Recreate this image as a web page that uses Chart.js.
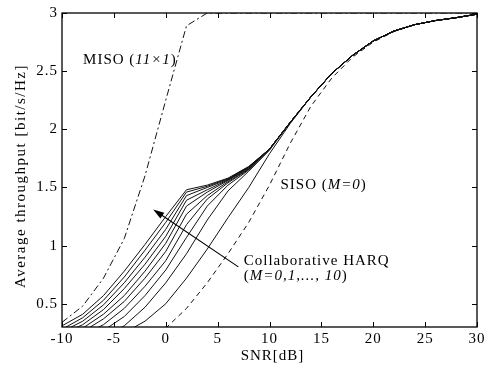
<!DOCTYPE html>
<html><head><meta charset="utf-8">
<script src="https://cdn.jsdelivr.net/npm/chart.js@4/dist/chart.umd.min.js"></script>
<style>html,body{margin:0;padding:0;background:#fff;}#wrap{width:494px;height:373px;position:relative;}</style>
</head><body><div id="wrap"><canvas id="c" width="494" height="373"></canvas></div>
<script>
// SNR grid [dB]
const snr = [-10,-8,-6,-4,-2,0,2,4,6,8,10,12,14,16,18,20,22,24,26,28,30];
// MISO (11x1)
const miso = [0.34,0.48,0.72,1.06,1.60,2.25,2.89,3,3,3,3,3,3,3,3,3,3,3,3,3,3];
// SISO (M=0)
const siso = [0.05,0.07,0.10,0.14,0.20,0.29,0.46,0.68,0.93,1.20,1.52,1.88,2.20,2.44,2.62,2.75,2.84,2.90,2.935,2.96,2.99];
// Collaborative HARQ, M = 1 ... 10
const harqM1  = [0.12,0.15,0.19,0.25,0.35,0.50,0.72,0.97,1.24,1.50,1.79,2.05,2.28,2.48,2.635,2.76,2.845,2.90,2.935,2.96,2.99];
const harqM2  = [0.14,0.17,0.22,0.31,0.47,0.68,0.93,1.22,1.47,1.64,1.82,2.06,2.28,2.48,2.635,2.76,2.845,2.90,2.935,2.96,2.99];
const harqM3  = [0.16,0.20,0.27,0.39,0.57,0.79,1.07,1.34,1.52,1.65,1.83,2.06,2.28,2.48,2.635,2.76,2.845,2.90,2.935,2.96,2.99];
const harqM4  = [0.18,0.23,0.32,0.46,0.65,0.87,1.18,1.40,1.54,1.655,1.83,2.06,2.28,2.48,2.635,2.76,2.845,2.90,2.935,2.96,2.99];
const harqM5  = [0.20,0.26,0.37,0.52,0.72,0.95,1.27,1.43,1.55,1.66,1.83,2.06,2.28,2.48,2.635,2.76,2.845,2.90,2.935,2.96,2.99];
const harqM6  = [0.22,0.29,0.41,0.57,0.78,1.02,1.34,1.46,1.56,1.665,1.83,2.06,2.28,2.48,2.635,2.76,2.845,2.90,2.935,2.96,2.99];
const harqM7  = [0.24,0.32,0.45,0.63,0.84,1.08,1.39,1.48,1.565,1.67,1.83,2.06,2.28,2.48,2.635,2.76,2.845,2.90,2.935,2.96,2.99];
const harqM8  = [0.26,0.35,0.49,0.68,0.90,1.14,1.43,1.50,1.57,1.675,1.83,2.06,2.28,2.48,2.635,2.76,2.845,2.90,2.935,2.96,2.99];
const harqM9  = [0.28,0.38,0.53,0.73,0.96,1.20,1.46,1.51,1.575,1.678,1.83,2.06,2.28,2.48,2.635,2.76,2.845,2.90,2.935,2.96,2.99];
const harqM10 = [0.31,0.41,0.57,0.78,1.01,1.25,1.48,1.52,1.58,1.68,1.83,2.06,2.28,2.48,2.635,2.76,2.845,2.90,2.935,2.96,2.99];
const harqSeries = [harqM1,harqM2,harqM3,harqM4,harqM5,harqM6,harqM7,harqM8,harqM9,harqM10];
// tick labels
const xTicks = [-10,-5,0,5,10,15,20,25,30];
const yTicks = [0.5,1,1.5,2,2.5,3];

const FONT = '"Liberation Serif","Times New Roman",serif';
const toPts = arr => arr.map((v,i)=>({x:snr[i], y:v}));

const datasets = [];
harqSeries.forEach((s,i)=>datasets.push({label:'HARQ M='+(i+1), data:toPts(s), borderColor:'#111', borderWidth:1}));
datasets.push({label:'SISO', data:toPts(siso), borderColor:'#111', borderWidth:1, borderDash:[5,4]});
datasets.push({label:'MISO', data:toPts(miso), borderColor:'#111', borderWidth:1, borderDash:[7,3,2,3]});

function drawRich(ctx, parts, x, y){
  let cx = x;
  parts.forEach(([t,it])=>{
    ctx.font = (it?'italic ':'') + '15px ' + FONT;
    ctx.fillText(t, cx, y);
    cx += ctx.measureText(t).width;
  });
}

const deco = {
  id:'deco',
  beforeDraw(chart){ chart.ctx.letterSpacing = '1px'; },
  afterDraw(chart){
    const ctx = chart.ctx, a = chart.chartArea, xs = chart.scales.x, ys = chart.scales.y;
    ctx.save();
    ctx.strokeStyle = '#000'; ctx.fillStyle = '#000';
    // frame
    ctx.lineWidth = 1.3;
    ctx.strokeRect(a.left, a.top, a.right-a.left, a.bottom-a.top);
    // inward ticks
    ctx.lineWidth = 1;
    const tl = 5;
    ctx.beginPath();
    xTicks.forEach(v=>{ const p = Math.round(xs.getPixelForValue(v))+0.5;
      ctx.moveTo(p,a.bottom); ctx.lineTo(p,a.bottom-tl);
      ctx.moveTo(p,a.top); ctx.lineTo(p,a.top+tl); });
    yTicks.forEach(v=>{ const p = Math.round(ys.getPixelForValue(v))+0.5;
      ctx.moveTo(a.left,p); ctx.lineTo(a.left+tl,p);
      ctx.moveTo(a.right,p); ctx.lineTo(a.right-tl,p); });
    ctx.stroke();
    // arrow
    const x0 = xs.getPixelForValue(7.0), y0 = ys.getPixelForValue(0.817);
    const x1 = xs.getPixelForValue(-1.21), y1 = ys.getPixelForValue(1.311);
    const ang = Math.atan2(y1-y0, x1-x0);
    ctx.lineWidth = 1.1;
    ctx.beginPath(); ctx.moveTo(x0,y0); ctx.lineTo(x1-6*Math.cos(ang), y1-6*Math.sin(ang)); ctx.stroke();
    ctx.beginPath();
    ctx.moveTo(x1,y1);
    ctx.lineTo(x1-11*Math.cos(ang)+3.5*Math.sin(ang), y1-11*Math.sin(ang)-3.5*Math.cos(ang));
    ctx.lineTo(x1-11*Math.cos(ang)-3.5*Math.sin(ang), y1-11*Math.sin(ang)+3.5*Math.cos(ang));
    ctx.closePath(); ctx.fill();
    // annotations
    ctx.letterSpacing = '1px';
    ctx.textAlign = 'left'; ctx.textBaseline = 'alphabetic';
    drawRich(ctx, [['MISO ',false],['(',false],['11×1',true],[')',false]], xs.getPixelForValue(-7.97), ys.getPixelForValue(2.563));
    drawRich(ctx, [['SISO ',false],['(',false],['M=0',true],[')',false]], xs.getPixelForValue(11.06), ys.getPixelForValue(1.489));
    drawRich(ctx, [['Collaborative HARQ',false]], xs.getPixelForValue(7.52), ys.getPixelForValue(0.83));
    drawRich(ctx, [['(',false],['M=0,1,..., 10',true],[')',false]], xs.getPixelForValue(7.52), ys.getPixelForValue(0.705));
    // axis titles
    ctx.font = '15px ' + FONT;
    ctx.textAlign = 'center'; ctx.textBaseline = 'middle';
    ctx.fillText('SNR[dB]', (a.left+a.right)/2 + 3, 356);
    ctx.save();
    ctx.translate(21, (a.top+a.bottom)/2 + 6);
    ctx.rotate(-Math.PI/2);
    ctx.letterSpacing = '1.5px';
    ctx.fillText('Average throughput [bit/s/Hz]', 0, 0);
    ctx.restore();
    ctx.restore();
    ctx.letterSpacing = '0px';
  }
};

new Chart(document.getElementById('c'), {
  type:'line',
  data:{datasets},
  options:{
    responsive:false, animation:false, devicePixelRatio:1,
    layout:{padding:{top:12,right:17,left:0,bottom:0}},
    plugins:{legend:{display:false}, tooltip:{enabled:false}},
    elements:{point:{radius:0}, line:{tension:0}},
    scales:{
      x:{type:'linear', min:-10, max:30,
        grid:{display:false, drawTicks:false}, border:{display:false},
        ticks:{color:'#000', font:{family:FONT, size:15}, padding:3, maxRotation:0, callback:v=>String(v)},
        afterBuildTicks: s=>{ s.ticks = xTicks.map(v=>({value:v})); },
        afterFit: s=>{ s.height = 46; }},
      y:{type:'linear', min:0.3, max:3,
        grid:{display:false, drawTicks:false}, border:{display:false},
        ticks:{color:'#000', font:{family:FONT, size:15}, padding:4, callback:v=>String(v)},
        afterBuildTicks: s=>{ s.ticks = yTicks.map(v=>({value:v})); },
        afterFit: s=>{ s.width = 62; }}
    }
  },
  plugins:[deco]
});
</script></body></html>
